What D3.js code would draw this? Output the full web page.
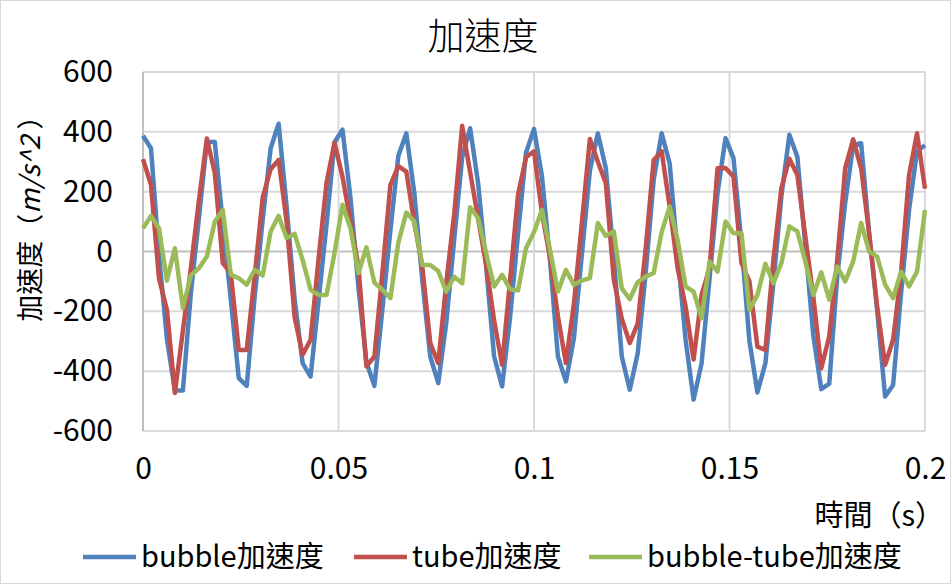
<!DOCTYPE html>
<html>
<head>
<meta charset="utf-8">
<script src="https://cdn.jsdelivr.net/npm/d3@7"></script>
<style>
  body { margin: 0; background: #fff; }
  text { font-family: "Noto Sans CJK TC", "Noto Sans", sans-serif; fill: #000; }
</style>
</head>
<body>
<script>
const width = 951;
const height = 584;

// time (s), sampled at 490 Hz
const times = [
  0, 0.00204, 0.00408, 0.00612, 0.00816, 0.0102, 0.01224, 0.01429, 0.01633, 0.01837,
  0.02041, 0.02245, 0.02449, 0.02653, 0.02857, 0.03061, 0.03265, 0.03469, 0.03673, 0.03878,
  0.04082, 0.04286, 0.0449, 0.04694, 0.04898, 0.05102, 0.05306, 0.0551, 0.05714, 0.05918,
  0.06122, 0.06327, 0.06531, 0.06735, 0.06939, 0.07143, 0.07347, 0.07551, 0.07755, 0.07959,
  0.08163, 0.08367, 0.08571, 0.08776, 0.0898, 0.09184, 0.09388, 0.09592, 0.09796, 0.1,
  0.10204, 0.10408, 0.10612, 0.10816, 0.1102, 0.11224, 0.11429, 0.11633, 0.11837, 0.12041,
  0.12245, 0.12449, 0.12653, 0.12857, 0.13061, 0.13265, 0.13469, 0.13673, 0.13878, 0.14082,
  0.14286, 0.1449, 0.14694, 0.14898, 0.15102, 0.15306, 0.1551, 0.15714, 0.15918, 0.16122,
  0.16327, 0.16531, 0.16735, 0.16939, 0.17143, 0.17347, 0.17551, 0.17755, 0.17959, 0.18163,
  0.18367, 0.18571, 0.18776, 0.1898, 0.19184, 0.19388, 0.19592, 0.19796, 0.2
];

const bubble = [
  387, 345, -10, -292, -465, -465, -140, 110, 366, 366,
  95, -160, -423, -449, -150, 105, 345, 427, 150, -160,
  -373, -418, -165, 90, 365, 407, 180, -120, -370, -449,
  -195, 70, 320, 395, 195, -95, -351, -440, -240, 40,
  315, 412, 228, -50, -351, -451, -220, 60, 330, 410,
  251, -28, -351, -434, -290, -10, 270, 395, 278, -20,
  -351, -462, -340, -70, 240, 395, 295, -10, -296, -495,
  -374, -90, 195, 379, 312, 28, -300, -471, -373, -106,
  184, 390, 317, 20, -280, -460, -442, -84, 162, 356,
  362, 60, -195, -485, -446, -140, 139, 335, 355
];

const tube = [
  309, 223, -89, -195, -473, -265, -55, 170, 378, 262,
  -39, -72, -329, -329, -80, 180, 275, 306, 100, -220,
  -345, -295, -25, 230, 363, 250, 100, -50, -384, -351,
  -72, 223, 285, 267, 95, -50, -306, -373, -106, 125,
  420, 265, 110, -45, -230, -379, -95, 190, 315, 335,
  128, -20, -217, -373, -175, 95, 376, 300, 228, -95,
  -225, -306, -240, 10, 306, 335, 150, -55, -184, -361,
  -145, -55, 278, 279, 251, -39, -100, -318, -329, -28,
  212, 310, 256, 50, -150, -390, -284, -28, 278, 375,
  278, 60, -184, -379, -295, -70, 256, 395, 210
];

const diff = [
  78, 119, 78, -97, 11, -189, -80, -56, -17, 100,
  139, -78, -89, -111, -61, -80, 67, 119, 45, 59,
  -28, -128, -145, -145, -5, 156, 78, -72, 14, -104,
  -128, -156, 30, 130, 100, -45, -45, -65, -134, -84,
  -106, 148, 111, -6, -117, -78, -126, -130, 11, 65,
  139, 6, -134, -61, -111, -97, -89, 95, 52, 67,
  -123, -159, -102, -84, -72, 65, 150, 39, -117, -134,
  -223, -33, -67, 100, 61, 61, -195, -145, -41, -106,
  -39, 84, 67, -33, -145, -70, -161, -50, -100, -33,
  95, 0, -17, -111, -156, -67, -117, -67, 139
];

const seriesNames = ["bubble加速度", "tube加速度", "bubble-tube加速度"];
const colors = ["#4F81BD", "#C0504D", "#9BBB59"];
const xTicks = [0, 0.05, 0.1, 0.15, 0.2];
const yTicks = [-600, -400, -200, 0, 200, 400, 600];

const plotLeft = 143;
const plotRight = 925;
const plotTop = 72;
const plotBottom = 431;

const svg = d3
  .select("body")
  .append("svg")
  .attr("width", width)
  .attr("height", height);

// chart border
svg
  .append("rect")
  .attr("x", 0.5)
  .attr("y", 0.5)
  .attr("width", width - 1)
  .attr("height", height - 1)
  .attr("fill", "#fff")
  .attr("stroke", "#d9d9d9");

const xScale = d3.scaleLinear().domain([0, 0.2]).range([plotLeft, plotRight]);
const yScale = d3.scaleLinear().domain([-600, 600]).range([plotBottom, plotTop]);

// gridlines
svg
  .append("g")
  .selectAll("line")
  .data(yTicks)
  .enter()
  .append("line")
  .attr("x1", plotLeft)
  .attr("x2", plotRight)
  .attr("y1", (d) => yScale(d))
  .attr("y2", (d) => yScale(d))
  .attr("stroke", (d) => (d === 0 ? "#bfbfbf" : "#d9d9d9"))
  .attr("stroke-width", 2);

svg
  .append("g")
  .selectAll("line")
  .data(xTicks)
  .enter()
  .append("line")
  .attr("x1", (d) => xScale(d))
  .attr("x2", (d) => xScale(d))
  .attr("y1", plotTop)
  .attr("y2", plotBottom)
  .attr("stroke", (d) => (d === 0 ? "#bfbfbf" : "#d9d9d9"))
  .attr("stroke-width", 2);

// plain hyphen minus, as in the original
const plain = (d) => String(d);

// y axis labels
const yAxis = d3.axisLeft(yScale).tickValues(yTicks).tickSize(0).tickPadding(30).tickFormat(plain);
svg
  .append("g")
  .attr("transform", `translate(${plotLeft}, 0)`)
  .call(yAxis)
  .call((g) => g.select(".domain").remove())
  .selectAll("text")
  .attr("font-family", null)
  .style("font-size", "30px");

// x axis labels (placed low, below the plot)
const xAxis = d3.axisBottom(xScale).tickValues(xTicks).tickSize(0).tickPadding(27).tickFormat(plain);
svg
  .append("g")
  .attr("transform", `translate(0, ${plotBottom})`)
  .call(xAxis)
  .call((g) => g.select(".domain").remove())
  .selectAll("text")
  .attr("font-family", null)
  .style("font-size", "30px");

// series lines
const line = d3
  .line()
  .x((d, i) => xScale(times[i]))
  .y((d) => yScale(d));

[bubble, tube, diff].forEach((values, k) => {
  svg
    .append("path")
    .datum(values)
    .attr("fill", "none")
    .attr("stroke", colors[k])
    .attr("stroke-width", 4.5)
    .attr("stroke-linejoin", "round")
    .attr("d", line);
});

// title
svg
  .append("text")
  .attr("x", 483)
  .attr("y", 50)
  .attr("text-anchor", "middle")
  .style("font-size", "37px")
  .style("font-weight", 300)
  .text("加速度");

// y axis title
const yTitle = svg
  .append("text")
  .attr("transform", "translate(40, 212) rotate(-90)")
  .attr("text-anchor", "middle")
  .style("font-size", "27px");
yTitle.append("tspan").text("加速度（");
yTitle.append("tspan").style("font-style", "italic").text("m/s^2");
yTitle.append("tspan").text(" ）");

// x axis title
svg
  .append("text")
  .attr("x", 944)
  .attr("y", 526)
  .attr("text-anchor", "end")
  .style("font-size", "29px")
  .text("時間（s）");

// legend
const legendX = [83, 354, 589];
const legend = svg.append("g").attr("transform", "translate(0, 557)");
const item = legend
  .selectAll("g")
  .data(seriesNames)
  .enter()
  .append("g")
  .attr("transform", (d, i) => `translate(${legendX[i]}, 0)`);
item
  .append("line")
  .attr("x1", 0)
  .attr("x2", 53)
  .attr("stroke", (d, i) => colors[i])
  .attr("stroke-width", 4.5);
item
  .append("text")
  .attr("x", 58)
  .attr("y", 10)
  .style("font-size", "29px")
  .text((d) => d);
</script>
</body>
</html>
